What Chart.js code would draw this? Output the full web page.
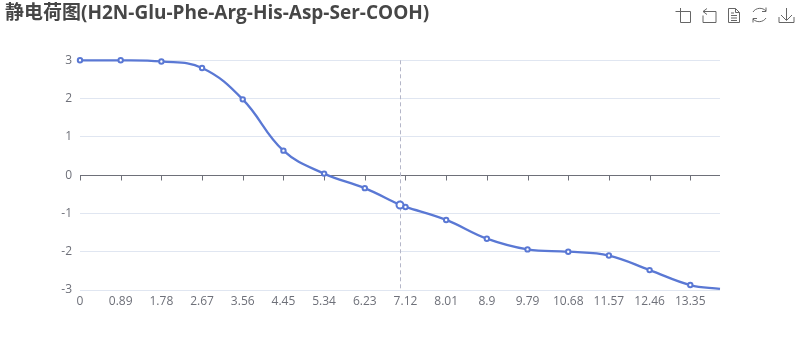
<!DOCTYPE html>
<html>
<head>
<meta charset="utf-8">
<script src="https://cdn.jsdelivr.net/npm/chart.js@4/dist/chart.umd.min.js"></script>
<style>
  html, body { margin: 0; background: #fff; }
  #wrap { position: relative; width: 800px; height: 360px; }
  #tools { position: absolute; left: 0; top: 0; pointer-events: none; }
</style>
</head>
<body>
<div id="wrap">
  <canvas id="chart" width="800" height="360"></canvas>
  <svg id="tools" width="800" height="40" fill="none" stroke="#666" stroke-width="1">
    <path d="M675.5 11.5h15v-0M680.5 8v14.5h10v-11"/>
    <path d="M707 8.5l-4 3 4 3M703 11.5h13v11h-13v-7"/>
    <path d="M728.5 8.5h7l4 4v10h-11zM735.5 8.5v4h4M731 13h3M731 15.5h6M731 18h6M731 20.5h6"/>
    <path d="M753 12a8 7.5 0 0 1 13 -1M766 7.5v4h-4M766 18a8 7.5 0 0 1 -13 1M753 22.5v-4h4"/>
    <path d="M786.5 8v12M781 15l5.5 5.5 5.5-5.5M779 17v5.5h15v-5.5"/>
  </svg>
</div>
<script>
const ph = [0, 0.89, 1.78, 2.67, 3.56, 4.45, 5.34, 6.23, 7, 7.12, 8.01, 8.9, 9.79, 10.68, 11.57, 12.46, 13.35, 14];
const charge = [3, 3, 2.97, 2.8, 1.98, 0.64, 0.04, -0.34, -0.78, -0.83, -1.17, -1.66, -1.94, -2, -2.1, -2.48, -2.87, -2.97];
const xTicks = [0, 0.89, 1.78, 2.67, 3.56, 4.45, 5.34, 6.23, 7.12, 8.01, 8.9, 9.79, 10.68, 11.57, 12.46, 13.35];
const yTicks = [3, 2, 1, 0, -1, -2, -3];
const hoverPh = 7;
const titleText = "静电荷图(H2N-Glu-Phe-Arg-His-Asp-Ser-COOH)";

const fontFamily = '"Open Sans", "Noto Sans CJK SC", sans-serif';
const lineColor = "#5a78d4";
const textColor = "#6e7079";

// axis line sits on y=0 while the labels stay at the bottom, and the hover line
const extras = {
  id: "extras",
  beforeDatasetsDraw(chart) {
    const { ctx, scales: { x, y }, chartArea } = chart;
    ctx.save();
    ctx.strokeStyle = textColor;
    ctx.lineWidth = 1;
    const zero = Math.round(y.getPixelForValue(0)) + 0.5;
    ctx.beginPath();
    ctx.moveTo(chartArea.left, zero);
    ctx.lineTo(chartArea.right, zero);
    xTicks.forEach((t) => {
      const px = Math.round(x.getPixelForValue(t)) + 0.5;
      ctx.moveTo(px, zero);
      ctx.lineTo(px, zero + 5);
    });
    ctx.stroke();
    const hx = Math.round(x.getPixelForValue(hoverPh)) + 0.5;
    ctx.strokeStyle = "#b4b6c8";
    ctx.setLineDash([4, 3]);
    ctx.beginPath();
    ctx.moveTo(hx, chartArea.top);
    ctx.lineTo(hx, chartArea.bottom);
    ctx.stroke();
    ctx.restore();
  },
};

new Chart(document.getElementById("chart"), {
  type: "line",
  data: {
    datasets: [{
      data: ph.map((v, i) => ({ x: v, y: charge[i] })),
      borderColor: lineColor,
      borderWidth: 2.3,
      backgroundColor: "#fff",
      pointBorderColor: lineColor,
      pointBackgroundColor: "#fff",
      pointBorderWidth: 2,
      pointRadius: (c) => {
        const v = ph[c.dataIndex];
        if (v === hoverPh) return 3.5;
        return v === 14 ? 0 : 2.2;
      },
      tension: 0.4,
      clip: false,
    }],
  },
  options: {
    responsive: false,
    animation: false,
    layout: { padding: { left: 5, right: 80, top: 0, bottom: 0 } },
    plugins: {
      legend: { display: false },
      tooltip: { enabled: false },
      title: {
        display: true,
        text: titleText,
        align: "start",
        color: "#464646",
        font: { family: fontFamily, size: 19, weight: "bold" },
        padding: { top: 2, bottom: 35.5 },
      },
    },
    scales: {
      x: {
        type: "linear",
        min: 0,
        max: 14,
        afterBuildTicks: (s) => { s.ticks = xTicks.map((v) => ({ value: v })); },
        afterFit: (s) => { s.height = 70; },
        grid: { display: false, drawTicks: false },
        border: { display: false },
        ticks: {
          color: textColor,
          font: { family: fontFamily, size: 12 },
          maxRotation: 0,
          autoSkip: false,
          padding: 4,
          callback: (v) => String(v),
        },
      },
      y: {
        min: -3,
        max: 3,
        afterBuildTicks: (s) => { s.ticks = yTicks.map((v) => ({ value: v })); },
        afterFit: (s) => { s.width = 75; },
        grid: { color: "#e0e6f1", drawTicks: false },
        border: { display: false },
        ticks: {
          color: textColor,
          font: { family: fontFamily, size: 12 },
          padding: 8,
          callback: (v) => String(v),
        },
      },
    },
  },
  plugins: [extras],
});
</script>
</body>
</html>
